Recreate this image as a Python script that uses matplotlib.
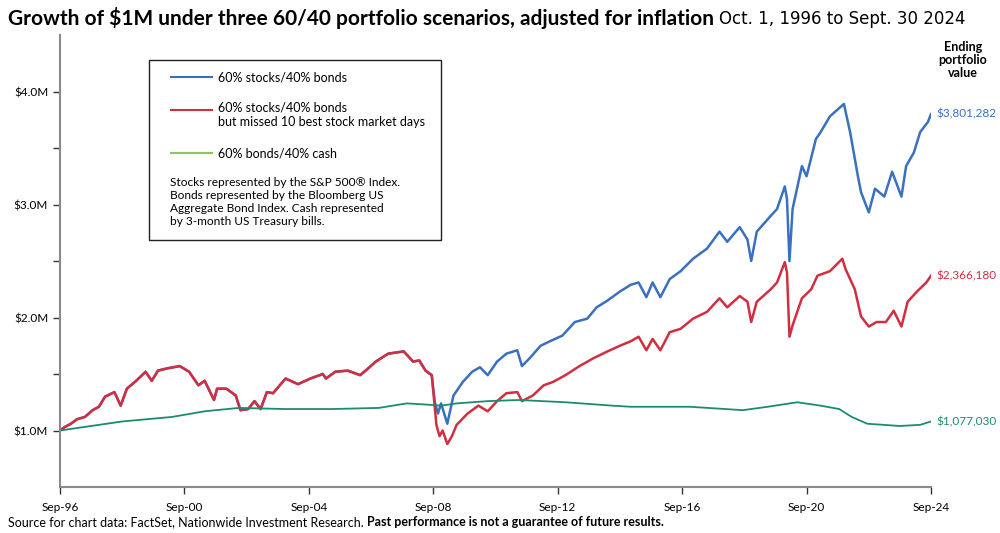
import matplotlib
matplotlib.use("Agg")
import matplotlib.pyplot as plt
from matplotlib.lines import Line2D
from matplotlib.patches import Rectangle

plt.rcParams["font.family"] = ["Lato", "DejaVu Sans"]

# -------------------------------
# data ($M, inflation adjusted)
# -------------------------------
# both 60/40 portfolios are identical until the 2008 crash
shared_years = [1996.75, 1996.9, 1997.1, 1997.3, 1997.55, 1997.8, 1998.0, 1998.2, 1998.5, 1998.7,
                1998.9, 1999.2, 1999.5, 1999.7, 1999.9, 2000.2, 2000.6, 2000.9, 2001.2, 2001.4,
                2001.7, 2001.8, 2002.1, 2002.4, 2002.55, 2002.8, 2003.0, 2003.2, 2003.4, 2003.6,
                2004.0, 2004.4, 2004.8, 2005.2, 2005.3, 2005.6, 2006.0, 2006.4, 2006.7, 2006.9,
                2007.3, 2007.8, 2008.1, 2008.3, 2008.5, 2008.7]
shared_vals = [1.00, 1.03, 1.06, 1.10, 1.12, 1.18, 1.21, 1.30, 1.34, 1.22,
               1.37, 1.44, 1.52, 1.44, 1.53, 1.55, 1.57, 1.52, 1.40, 1.44,
               1.27, 1.37, 1.37, 1.31, 1.18, 1.19, 1.26, 1.19, 1.34, 1.33,
               1.46, 1.41, 1.46, 1.50, 1.46, 1.52, 1.53, 1.49, 1.56, 1.61,
               1.68, 1.70, 1.61, 1.62, 1.53, 1.49]

blue_years = [2008.8, 2008.9, 2009.0, 2009.2, 2009.4, 2009.7, 2010.0, 2010.25, 2010.5, 2010.8,
              2011.1, 2011.45, 2011.6, 2011.85, 2012.2, 2012.5, 2012.9, 2013.3, 2013.7, 2014.0,
              2014.35, 2014.75, 2015.1, 2015.35, 2015.6, 2015.8, 2016.05, 2016.35, 2016.7, 2017.1,
              2017.55, 2017.95, 2018.2, 2018.6, 2018.85, 2018.97, 2019.15, 2019.6, 2019.8, 2020.05,
              2020.12, 2020.2, 2020.3, 2020.6, 2020.75, 2021.05, 2021.2, 2021.5, 2021.95, 2022.15,
              2022.4, 2022.5, 2022.75, 2022.95, 2023.25, 2023.5, 2023.8, 2023.95, 2024.2, 2024.4,
              2024.65, 2024.75]
blue_vals = [1.25, 1.15, 1.24, 1.06, 1.31, 1.43, 1.52, 1.56, 1.49, 1.61,
             1.68, 1.71, 1.57, 1.64, 1.75, 1.79, 1.84, 1.96, 1.99, 2.09,
             2.15, 2.23, 2.29, 2.31, 2.18, 2.31, 2.18, 2.34, 2.41, 2.52,
             2.61, 2.76, 2.67, 2.80, 2.69, 2.50, 2.76, 2.90, 2.96, 3.16,
             3.05, 2.50, 2.96, 3.34, 3.25, 3.58, 3.64, 3.78, 3.89, 3.64,
             3.25, 3.11, 2.93, 3.14, 3.07, 3.29, 3.07, 3.34, 3.46, 3.64,
             3.73, 3.80]

red_years = [2008.8, 2008.85, 2008.95, 2009.05, 2009.2, 2009.35, 2009.5, 2009.85, 2010.2, 2010.5,
             2010.8, 2011.1, 2011.45, 2011.6, 2011.95, 2012.3, 2012.6, 2013.0, 2013.45, 2013.9,
             2014.35, 2014.75, 2015.1, 2015.35, 2015.6, 2015.8, 2016.05, 2016.35, 2016.7, 2017.1,
             2017.55, 2017.95, 2018.2, 2018.6, 2018.85, 2018.97, 2019.15, 2019.6, 2019.8, 2020.05,
             2020.12, 2020.2, 2020.3, 2020.6, 2020.9, 2021.1, 2021.5, 2021.9, 2022.0, 2022.3,
             2022.5, 2022.75, 2023.0, 2023.3, 2023.55, 2023.8, 2024.0, 2024.3, 2024.6, 2024.75]
red_vals = [1.20, 1.05, 0.95, 1.00, 0.88, 0.95, 1.05, 1.15, 1.22, 1.17,
            1.26, 1.33, 1.34, 1.26, 1.31, 1.40, 1.43, 1.49, 1.57, 1.64,
            1.70, 1.75, 1.79, 1.83, 1.71, 1.81, 1.71, 1.87, 1.90, 1.99,
            2.05, 2.17, 2.09, 2.19, 2.14, 1.96, 2.14, 2.25, 2.31, 2.49,
            2.40, 1.83, 1.93, 2.17, 2.25, 2.37, 2.41, 2.52, 2.43, 2.25,
            2.01, 1.92, 1.96, 1.96, 2.06, 1.92, 2.14, 2.23, 2.31, 2.37]

cash_years = [1996.75, 1997.5, 1998.75, 2000.35, 2001.4, 2002.5, 2004.0, 2005.5, 2007.0, 2007.9,
              2008.5, 2009.0, 2009.5, 2010.5, 2011.5, 2013.0, 2014.5, 2015.1, 2017.0, 2018.7,
              2019.5, 2020.45, 2021.2, 2021.8, 2022.2, 2022.7, 2023.75, 2024.4, 2024.75]
cash_vals = [1.00, 1.03, 1.08, 1.12, 1.17, 1.20, 1.19, 1.19, 1.20, 1.24,
             1.23, 1.22, 1.24, 1.26, 1.27, 1.25, 1.22, 1.21, 1.21, 1.18,
             1.21, 1.25, 1.22, 1.19, 1.12, 1.06, 1.04, 1.05, 1.08]

end_labels = ["$3,801,282", "$2,366,180", "$1,077,030"]
x_ticks = [1996.75, 2000.75, 2004.75, 2008.75, 2012.75, 2016.75, 2020.75, 2024.75]
x_labels = ["Sep-96", "Sep-00", "Sep-04", "Sep-08", "Sep-12", "Sep-16", "Sep-20", "Sep-24"]
y_ticks = [1, 2, 3, 4]
y_labels = ["$1.0M", "$2.0M", "$3.0M", "$4.0M"]

BLUE = "#3a70bd"
RED = "#d12f3f"
TEAL = "#1c8c6c"
LEGEND_GREEN = "#8fc45a"
GRAY = "#8a8a8a"

# -------------------------------
# figure
# -------------------------------
fig = plt.figure(figsize=(10, 5.33), dpi=100)
ax = fig.add_axes([0.06, 0.0863, 0.871, 0.848])

ax.plot(shared_years + blue_years, shared_vals + blue_vals, color=BLUE, lw=1.8)
ax.plot(shared_years + red_years, shared_vals + red_vals, color=RED, lw=1.8)
ax.plot(cash_years, cash_vals, color=TEAL, lw=1.3)

ax.set_xlim(1996.75, 2024.75)
ax.set_ylim(0.5, 4.5)
ax.set_xticks(x_ticks)
ax.set_xticklabels(x_labels, fontsize=8.5)
ax.set_yticks(y_ticks)
ax.set_yticklabels(y_labels, fontsize=8.5)
ax.set_yticks([1.5, 2.5, 3.5], minor=True)

for side in ["top", "right"]:
    ax.spines[side].set_visible(False)
for side in ["left", "bottom"]:
    ax.spines[side].set_color(GRAY)
    ax.spines[side].set_linewidth(1.5)
ax.tick_params(axis="both", which="both", color="#333333", length=5, width=1)
ax.tick_params(axis="x", pad=6)

# ending values
for yv, txt, col in [(blue_vals[-1], end_labels[0], BLUE),
                     (red_vals[-1], end_labels[1], RED),
                     (cash_vals[-1], end_labels[2], TEAL)]:
    ax.annotate(txt, xy=(x_ticks[-1], yv), xytext=(4, 0), textcoords="offset points",
                color=col, fontsize=8.5, va="center", ha="left", annotation_clip=False)

fig.text(0.963, 0.887, "Ending\nportfolio\nvalue", ha="center", va="center",
         fontsize=9, fontweight="bold", linespacing=1.1)

# -------------------------------
# legend box
# -------------------------------
W, H = 1000, 533
def fx(px):
    return px / W
def fy(py):
    return 1 - py / H

fig.patches.append(Rectangle((fx(149), fy(240)), fx(441) - fx(149), fy(60) - fy(240),
                             transform=fig.transFigure, fill=False, edgecolor="#222222", lw=1))
for py, col in [(77, BLUE), (110, RED), (153, LEGEND_GREEN)]:
    fig.lines.append(Line2D([fx(171), fx(212)], [fy(py), fy(py)], color=col, lw=1.5,
                            transform=fig.transFigure))
fig.text(fx(218), fy(77), "60% stocks/40% bonds", fontsize=9, va="center")
fig.text(fx(218), fy(115), "60% stocks/40% bonds\nbut missed 10 best stock market days",
         fontsize=9, va="center", linespacing=1.2)
fig.text(fx(218), fy(153), "60% bonds/40% cash", fontsize=9, va="center")
fig.text(fx(170), fy(202), "Stocks represented by the S&P 500® Index.\n"
         "Bonds represented by the Bloomberg US\n"
         "Aggregate Bond Index. Cash represented\n"
         "by 3-month US Treasury bills.",
         fontsize=8.6, va="center", linespacing=1.2)

# -------------------------------
# title and source
# -------------------------------
title = fig.text(0.008, fy(18), "Growth of $1M under three 60/40 portfolio scenarios, adjusted for inflation",
                 fontsize=15, fontweight="bold", va="center")
fig.canvas.draw()
bb = title.get_window_extent()
fig.text(bb.x1 / W + 0.005, fy(18.5), "Oct. 1, 1996 to Sept. 30 2024", fontsize=12,
         va="center", family="DejaVu Sans")

src = fig.text(0.008, fy(522), "Source for chart data: FactSet, Nationwide Investment Research. ",
               fontsize=9, va="center")
fig.canvas.draw()
bb = src.get_window_extent()
fig.text(bb.x1 / W, fy(522), "Past performance is not a guarantee of future results.",
         fontsize=9, fontweight="bold", va="center")

fig.savefig("out.png", dpi=100)
